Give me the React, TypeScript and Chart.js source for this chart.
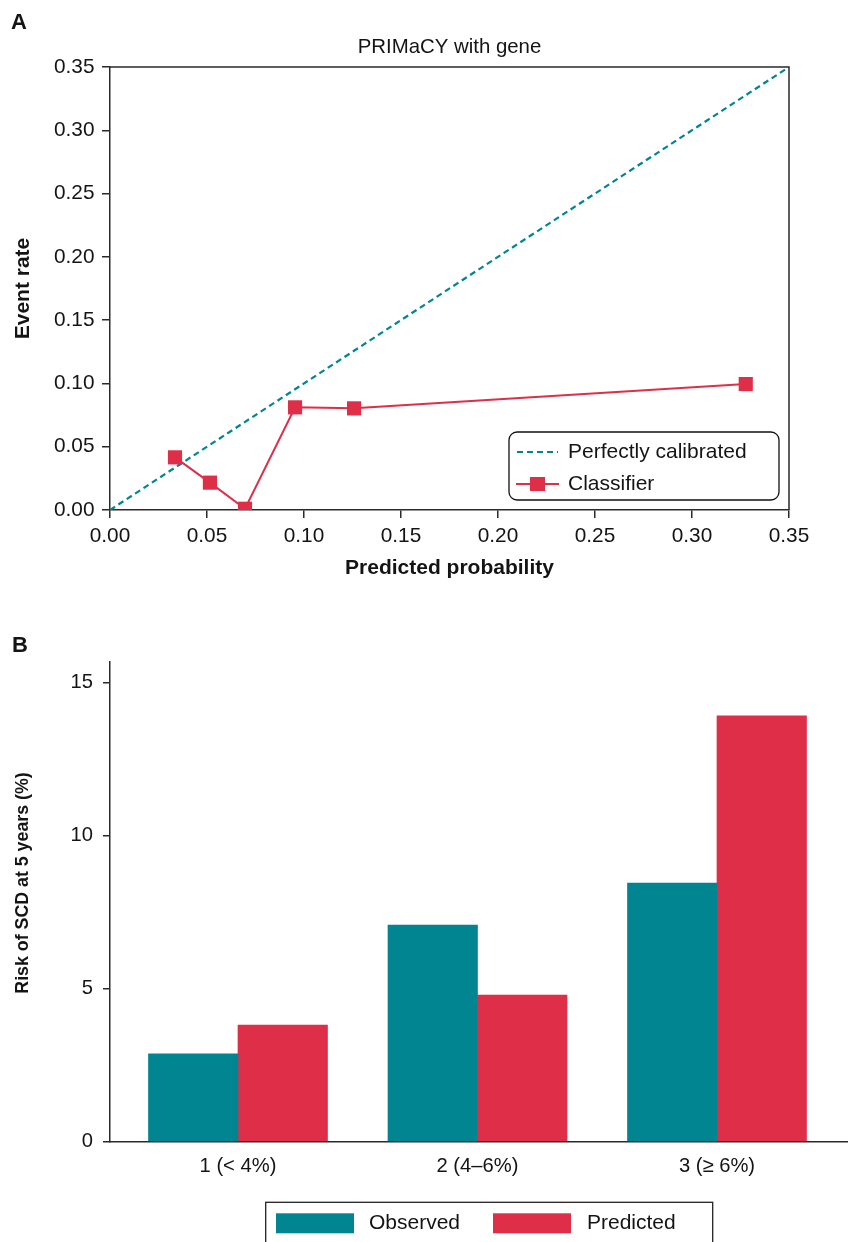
import React, { useEffect, useRef } from 'react';
import { Chart, registerables } from 'chart.js';

Chart.register(...registerables);

const FONT = "'Liberation Sans', Arial, Helvetica, sans-serif";
const TEAL = '#008591';
const RED = '#DF2E47';
const AXIS = '#2a2a2a';
const TEXT = '#141414';

// ---- Panel A: calibration plot ----
const calibTitle = 'PRIMaCY with gene';
const calibTicks = [0, 0.05, 0.1, 0.15, 0.2, 0.25, 0.3, 0.35];
const perfectX = [0, 0.35];
const perfectY = [0, 0.35];
const classifierX = [0.0335, 0.0515, 0.0696, 0.0954, 0.1258, 0.3277];
const classifierY = [0.0416, 0.0216, 0.001, 0.0811, 0.0803, 0.0995];

// ---- Panel B: observed vs predicted risk ----
const riskGroups = ['1 (< 4%)', '2 (4–6%)', '3 (≥ 6%)'];
const observed = [2.87, 7.08, 8.45];
const predicted = [3.81, 4.79, 13.91];
const riskTicks = [0, 5, 10, 15];

const tickFont = { family: FONT, size: 20.8 };
const tickFontB = { family: FONT, size: 20.2 };
const titleFont = { family: FONT, size: 21, weight: 'bold' as const };

export default function App() {
  const refA = useRef<HTMLCanvasElement>(null);
  const refB = useRef<HTMLCanvasElement>(null);

  useEffect(() => {
    document.body.style.margin = '0';

    const panelAPlugin = {
      id: 'panelA',
      afterDraw(chart: any) {
        const { ctx, chartArea } = chart;
        const { left, right, top, bottom } = chartArea;
        ctx.save();
        // frame (top & right)
        ctx.strokeStyle = AXIS;
        ctx.lineWidth = 1.5;
        ctx.beginPath();
        ctx.moveTo(left, top);
        ctx.lineTo(right, top);
        ctx.lineTo(right, bottom);
        ctx.stroke();
        // panel letter
        ctx.fillStyle = TEXT;
        ctx.textBaseline = 'middle';
        ctx.textAlign = 'left';
        ctx.font = `bold 22px ${FONT}`;
        ctx.fillText('A', 11, 23);
        // title
        ctx.textAlign = 'center';
        ctx.font = `20.4px ${FONT}`;
        ctx.fillText(calibTitle, (left + right) / 2, 47.5);
        // legend
        const lx = 509, ly = 432, lw = 270, lh = 68;
        ctx.fillStyle = '#ffffff';
        ctx.strokeStyle = '#111';
        ctx.lineWidth = 1.3;
        ctx.beginPath();
        (ctx as any).roundRect(lx, ly, lw, lh, 8);
        ctx.fill();
        ctx.stroke();
        const ds = chart.data.datasets;
        // item 1
        ctx.strokeStyle = ds[1].borderColor;
        ctx.lineWidth = 2.2;
        ctx.setLineDash([6, 4]);
        ctx.beginPath();
        ctx.moveTo(517, 452);
        ctx.lineTo(558, 452);
        ctx.stroke();
        ctx.setLineDash([]);
        // item 2
        ctx.strokeStyle = ds[0].borderColor;
        ctx.lineWidth = 2;
        ctx.beginPath();
        ctx.moveTo(516, 484);
        ctx.lineTo(559, 484);
        ctx.stroke();
        ctx.fillStyle = ds[0].borderColor;
        ctx.fillRect(530, 477, 15, 14);
        ctx.fillStyle = TEXT;
        ctx.textAlign = 'left';
        ctx.font = `21px ${FONT}`;
        ctx.fillText(ds[1].label, 568, 452);
        ctx.fillText(ds[0].label, 568, 484);
        ctx.restore();
      },
    };

    const panelBPlugin = {
      id: 'panelB',
      afterDraw(chart: any) {
        const { ctx } = chart;
        ctx.save();
        ctx.fillStyle = TEXT;
        ctx.textBaseline = 'middle';
        ctx.textAlign = 'left';
        ctx.font = `bold 22px ${FONT}`;
        ctx.fillText('B', 12, 45.5);
        // y title
        ctx.save();
        ctx.translate(23.5, 283);
        ctx.rotate(-Math.PI / 2);
        ctx.textAlign = 'center';
        ctx.font = `bold 17.8px ${FONT}`;
        ctx.fillText('Risk of SCD at 5 years (%)', 0, 0);
        ctx.restore();
        // legend
        ctx.strokeStyle = '#222';
        ctx.lineWidth = 1.3;
        ctx.strokeRect(265.7, 602.3, 447, 60);
        const ds = chart.data.datasets;
        ctx.fillStyle = ds[0].backgroundColor;
        ctx.fillRect(276, 613.3, 78, 20);
        ctx.fillStyle = ds[1].backgroundColor;
        ctx.fillRect(493, 613.3, 78, 20);
        ctx.fillStyle = TEXT;
        ctx.font = `21px ${FONT}`;
        ctx.fillText(ds[0].label, 369, 623.5);
        ctx.fillText(ds[1].label, 587, 623.5);
        ctx.restore();
      },
    };

    const chartA = new Chart(refA.current as HTMLCanvasElement, {
      type: 'scatter',
      data: {
        datasets: [
          {
            label: 'Classifier',
            data: classifierX.map((x, i) => ({ x, y: classifierY[i] })),
            showLine: true,
            borderColor: RED,
            backgroundColor: RED,
            borderWidth: 2,
            pointStyle: 'rect',
            pointRadius: 10,
            pointHoverRadius: 10,
            pointBorderWidth: 0,
            pointBackgroundColor: RED,
            order: 0,
          },
          {
            label: 'Perfectly calibrated',
            data: perfectX.map((x, i) => ({ x, y: perfectY[i] })),
            showLine: true,
            borderColor: TEAL,
            borderWidth: 2.2,
            borderDash: [6, 4],
            pointRadius: 0,
            pointHoverRadius: 0,
            order: 1,
          },
        ],
      },
      options: {
        responsive: false,
        animation: false,
        events: [],
        layout: { padding: { top: 67, right: 59, bottom: 0, left: 0 } },
        plugins: { legend: { display: false }, tooltip: { enabled: false }, title: { display: false } },
        scales: {
          x: {
            type: 'linear',
            min: 0,
            max: 0.35,
            afterBuildTicks: (s: any) => { s.ticks = calibTicks.map((v) => ({ value: v })); },
            afterFit: (s: any) => { s.height = 90; },
            ticks: {
              callback: (v: any) => Number(v).toFixed(2),
              font: tickFont,
              color: TEXT,
              padding: 6,
              maxRotation: 0,
              autoSkip: false,
            },
            grid: { drawOnChartArea: false, drawTicks: true, tickLength: 8, color: AXIS, lineWidth: 1.5 },
            border: { display: true, color: AXIS, width: 1.5 },
            title: {
              display: true,
              text: 'Predicted probability',
              font: titleFont,
              color: TEXT,
              padding: { top: 0, bottom: 19 },
            },
          },
          y: {
            type: 'linear',
            min: 0,
            max: 0.35,
            afterBuildTicks: (s: any) => { s.ticks = calibTicks.map((v) => ({ value: v })); },
            afterFit: (s: any) => { s.width = 110; },
            ticks: {
              callback: (v: any) => Number(v).toFixed(2),
              font: tickFont,
              color: TEXT,
              padding: 7.5,
              autoSkip: false,
            },
            grid: { drawOnChartArea: false, drawTicks: true, tickLength: 8, color: AXIS, lineWidth: 1.5 },
            border: { display: true, color: AXIS, width: 1.5 },
            title: {
              display: true,
              text: 'Event rate',
              font: titleFont,
              color: TEXT,
              padding: { top: 11, bottom: 0 },
            },
          },
        },
      },
      plugins: [panelAPlugin],
    } as any);

    const chartB = new Chart(refB.current as HTMLCanvasElement, {
      type: 'bar',
      data: {
        datasets: [
          {
            label: 'Observed',
            data: observed.map((y, i) => ({ x: i + 1, y })),
            backgroundColor: TEAL,
            borderWidth: 0,
            barThickness: 89.5,
          },
          {
            label: 'Predicted',
            data: predicted.map((y, i) => ({ x: i + 1, y })),
            backgroundColor: RED,
            borderWidth: 0,
            barThickness: 89.5,
          },
        ],
      },
      options: {
        responsive: false,
        animation: false,
        events: [],
        layout: { padding: { top: 62, right: 0, bottom: 0, left: 0 } },
        plugins: { legend: { display: false }, tooltip: { enabled: false }, title: { display: false } },
        scales: {
          x: {
            type: 'linear',
            offset: false,
            min: 0.4656,
            max: 3.547,
            afterBuildTicks: (s: any) => { s.ticks = riskGroups.map((_, i) => ({ value: i + 1 })); },
            afterFit: (s: any) => { s.height = 100.3; },
            ticks: {
              callback: (v: any) => riskGroups[Math.round(Number(v)) - 1],
              font: tickFontB,
              color: TEXT,
              padding: 13,
              maxRotation: 0,
              autoSkip: false,
            },
            grid: { display: false, drawTicks: false, offset: false },
            border: { display: true, color: AXIS, width: 1.5 },
          },
          y: {
            type: 'linear',
            min: 0,
            max: 15.67,
            afterBuildTicks: (s: any) => { s.ticks = riskTicks.map((v) => ({ value: v })); },
            afterFit: (s: any) => { s.width = 110; },
            ticks: {
              font: tickFontB,
              color: TEXT,
              padding: 10,
              autoSkip: false,
            },
            grid: { drawOnChartArea: false, drawTicks: true, tickLength: 7, color: AXIS, lineWidth: 1.5 },
            border: { display: true, color: AXIS, width: 1.5 },
          },
        },
      },
      plugins: [panelBPlugin],
    } as any);

    return () => {
      chartA.destroy();
      chartB.destroy();
    };
  }, []);

  return (
    <div style={{ position: 'relative', width: 848, height: 1242, background: '#ffffff', overflow: 'hidden' }}>
      <canvas
        ref={refA}
        width={848}
        height={600}
        style={{ position: 'absolute', left: 0, top: 0, width: 848, height: 600, display: 'block' }}
      />
      <canvas
        ref={refB}
        width={848}
        height={642}
        style={{ position: 'absolute', left: 0, top: 600, width: 848, height: 642, display: 'block' }}
      />
    </div>
  );
}
